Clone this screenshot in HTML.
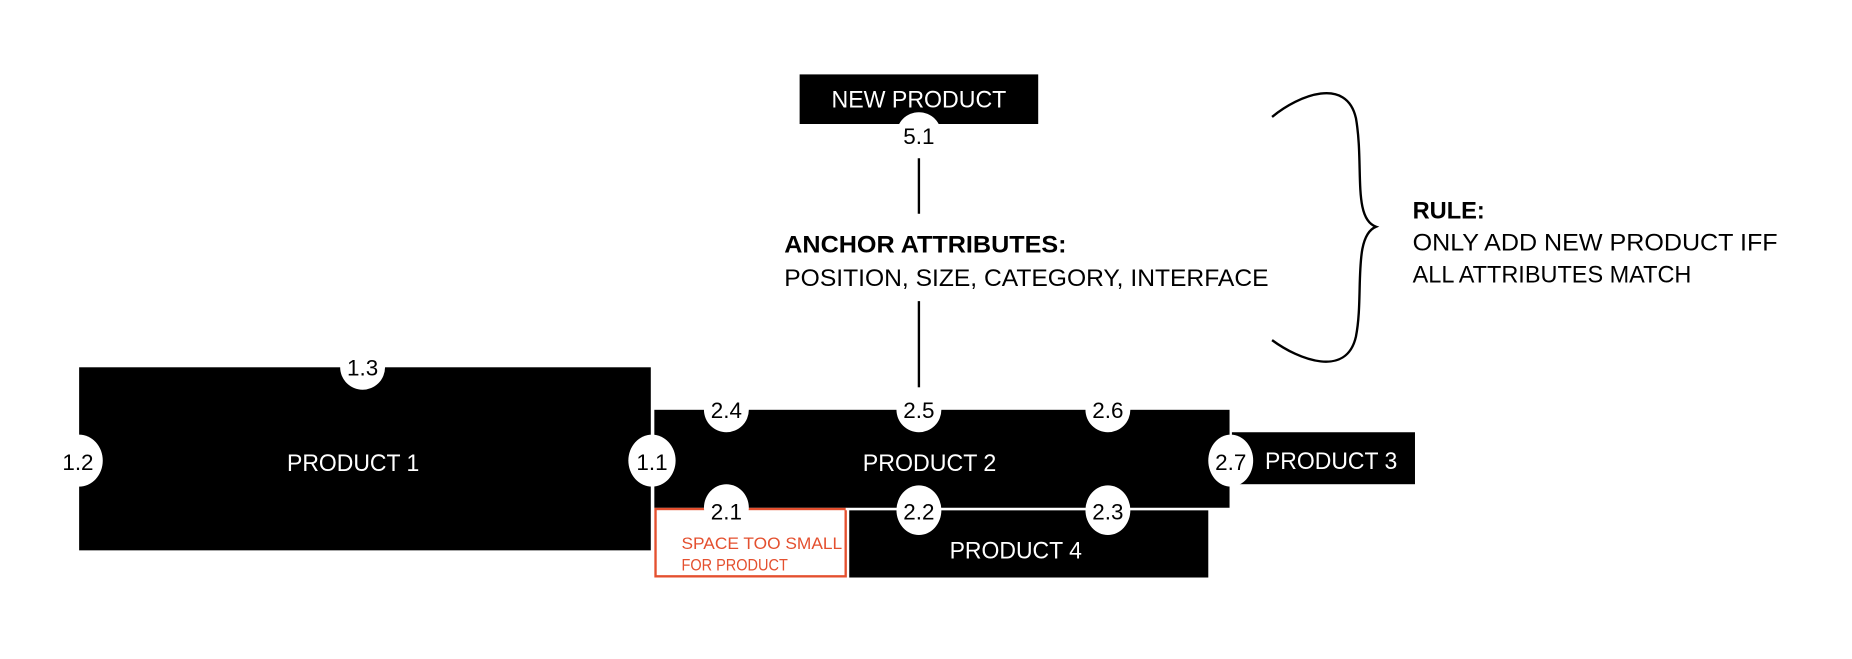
<!DOCTYPE html>
<html><head><meta charset="utf-8"><style>
html,body{margin:0;padding:0;background:#fff;}
svg{display:block;}
text{font-family:"Liberation Sans",sans-serif;}
</style></head><body>
<svg width="1852" height="659" viewBox="0 0 1568 558" preserveAspectRatio="none" xmlns="http://www.w3.org/2000/svg">
<rect width="1568" height="558" fill="#fff"/>
<rect x="677" y="63" width="202" height="42" fill="#000"/>
<text x="778" y="91" font-size="20" fill="#fff" text-anchor="middle" textLength="148" lengthAdjust="spacingAndGlyphs">NEW PRODUCT</text>
<ellipse cx="778" cy="114" rx="19" ry="19" fill="#fff"/>
<text x="778" y="122" font-size="19" text-anchor="middle">5.1</text>
<line x1="778" y1="134" x2="778" y2="181" stroke="#000" stroke-width="2"/>
<line x1="778" y1="255" x2="778" y2="328" stroke="#000" stroke-width="2"/>
<text x="664" y="214" font-size="20" font-weight="bold" textLength="239" lengthAdjust="spacingAndGlyphs">ANCHOR ATTRIBUTES:</text>
<text x="664" y="242" font-size="20" textLength="410" lengthAdjust="spacingAndGlyphs">POSITION, SIZE, CATEGORY, INTERFACE</text>
<path d="M1077,99 C1100,80 1140,65 1148,100 C1155,140 1145,185 1165,192 C1145,200 1155,250 1148,285 C1140,320 1100,305 1077,288" fill="none" stroke="#000" stroke-width="2"/>
<text x="1196" y="185" font-size="20" font-weight="bold">RULE:</text>
<text x="1196" y="212" font-size="20" textLength="309" lengthAdjust="spacingAndGlyphs">ONLY ADD NEW PRODUCT IFF</text>
<text x="1196" y="239" font-size="20" textLength="236" lengthAdjust="spacingAndGlyphs">ALL ATTRIBUTES MATCH</text>
<rect x="67" y="311" width="484" height="155" fill="#000"/>
<text x="299" y="399" font-size="20" fill="#fff" text-anchor="middle" textLength="112" lengthAdjust="spacingAndGlyphs">PRODUCT 1</text>
<rect x="554" y="347" width="487" height="83" fill="#000"/>
<text x="787" y="399" font-size="20" fill="#fff" text-anchor="middle" textLength="113" lengthAdjust="spacingAndGlyphs">PRODUCT 2</text>
<rect x="1043" y="366" width="155" height="44" fill="#000"/>
<text x="1127" y="397" font-size="20" fill="#fff" text-anchor="middle" textLength="112" lengthAdjust="spacingAndGlyphs">PRODUCT 3</text>
<rect x="719" y="432" width="304" height="57" fill="#000"/>
<text x="860" y="473" font-size="20" fill="#fff" text-anchor="middle" textLength="112" lengthAdjust="spacingAndGlyphs">PRODUCT 4</text>
<rect x="555" y="431" width="161" height="57" fill="#fff" stroke="#e4502f" stroke-width="2"/>
<text x="577" y="465" font-size="14" fill="#e4502f" textLength="136" lengthAdjust="spacingAndGlyphs">SPACE TOO SMALL</text>
<text x="577" y="483" font-size="14" fill="#e4502f" textLength="90" lengthAdjust="spacingAndGlyphs">FOR PRODUCT</text>
<line x1="716" y1="431" x2="1041" y2="431" stroke="#fff" stroke-width="2"/>
<g fill="#fff">
<ellipse cx="307" cy="311" rx="19" ry="19"/>
<ellipse cx="67" cy="390" rx="20" ry="22"/>
<ellipse cx="552" cy="390" rx="20" ry="22"/>
<ellipse cx="615" cy="347" rx="19" ry="19"/>
<ellipse cx="778" cy="347" rx="19" ry="19"/>
<ellipse cx="938" cy="347" rx="19" ry="19"/>
<ellipse cx="1042" cy="390" rx="19" ry="22"/>
<ellipse cx="615" cy="430" rx="19" ry="20"/>
<ellipse cx="778" cy="432" rx="19" ry="21"/>
<ellipse cx="938" cy="432" rx="19" ry="21"/>
</g>
<g font-size="19" text-anchor="middle" fill="#000">
<text x="307" y="318">1.3</text>
<text x="66" y="398">1.2</text>
<text x="552" y="398">1.1</text>
<text x="615" y="354">2.4</text>
<text x="778" y="354">2.5</text>
<text x="938" y="354">2.6</text>
<text x="1042" y="398">2.7</text>
<text x="615" y="440">2.1</text>
<text x="778" y="440">2.2</text>
<text x="938" y="440">2.3</text>
</g>
</svg>
</body></html>
